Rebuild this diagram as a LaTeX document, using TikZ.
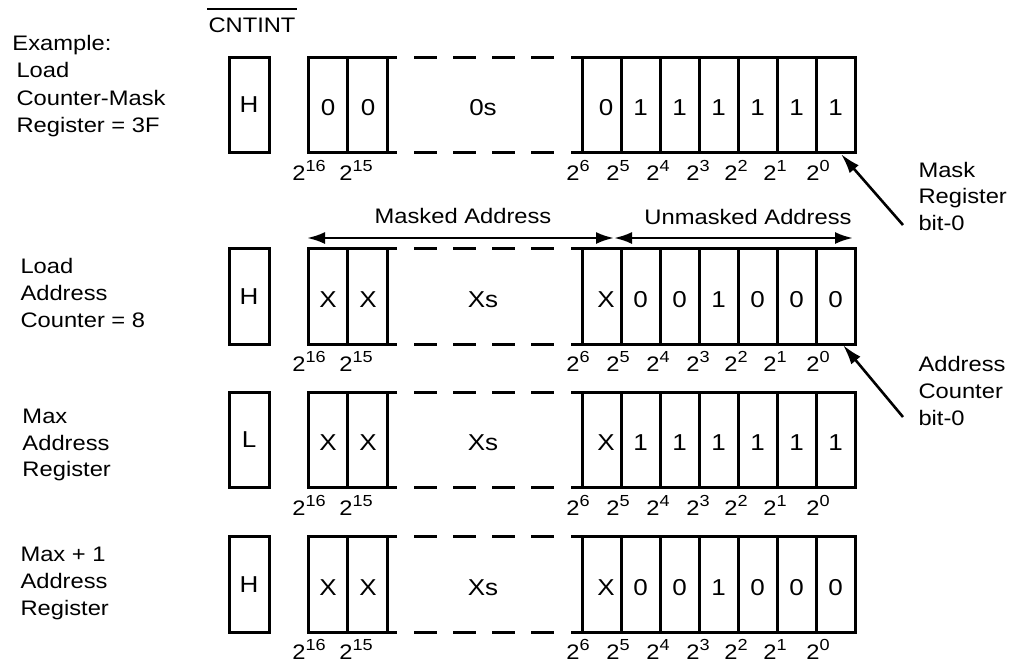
\documentclass[tikz,border=0pt]{standalone}
\usepackage{fontspec}
\setmainfont{Liberation Sans}[FakeStretch=1.13]
\usetikzlibrary{arrows.meta}
\newcommand\pw[1]{2\raisebox{9pt}{\fontsize{16}{16}\selectfont #1}}
\begin{document}
\begin{tikzpicture}[x=1pt,y=-1pt,line width=3pt,
 fnt/.style={inner sep=0pt, font=\fontsize{21}{25}\selectfont},
 bigfnt/.style={inner sep=0pt, font=\fontsize{23}{27}\selectfont},
 txtline/.style={fnt, anchor=base west},
 lbltxt/.style={fnt, anchor=base},
 celltxt/.style={bigfnt, anchor=base},
 bitlbl/.style={fnt, anchor=base},
 sig/.style={draw, bigfnt, minimum width=40pt, minimum height=95.5pt},
 darrow/.style={line width=2.6pt, {Latex[length=18pt,width=12pt]}-{Latex[length=18pt,width=12pt]}},
 parrow/.style={line width=2.6pt, -{Latex[length=20pt,width=12pt]}},
 dsh/.style={dash pattern=on 23pt off 16pt}]
\useasboundingbox (0,0) rectangle (1010,665);

% signal header
\node[txtline] (cnt) at (207,32) {CNTINT};
\draw[line width=1.4pt] ([yshift=7pt]cnt.north west) -- ([yshift=7pt]cnt.north east);

% left descriptions
\node[txtline] (d1a) at (11,50) {Example:};
\node[txtline] (d1b) at (15,77) {Load};
\node[txtline] (d1c) at (15,105) {Counter-Mask};
\node[txtline] (d1d) at (15,132) {Register = 3F};
\node[txtline] (d2a) at (19,273) {Load};
\node[txtline] (d2b) at (19,300) {Address};
\node[txtline] (d2c) at (19,327) {Counter = 8};
\node[txtline] (d3a) at (21,423) {Max};
\node[txtline] (d3b) at (21,450) {Address};
\node[txtline] (d3c) at (21,476) {Register};
\node[txtline] (d4a) at (19,561) {Max + 1};
\node[txtline] (d4b) at (19,588) {Address};
\node[txtline] (d4c) at (19,615) {Register};

% register rows
\foreach \r/\T/\hv/\la/\lb/\md/\rc in {
 1/57/H/0/0/0s/{0,1,1,1,1,1,1},
 2/248.5/H/X/X/Xs/{X,0,0,1,0,0,0},
 3/392/L/X/X/Xs/{X,1,1,1,1,1,1},
 4/536.5/H/X/X/Xs/{X,0,0,1,0,0,0}}{
  \pgfmathsetmacro\B{\T+95.5}
  \node[sig] (h\r) at (249,\T+47.75) {\hv};
  % left solid part
  \draw (397,\T) -- (308,\T) -- (308,\B) -- (397,\B);
  \draw (347.5,\T) -- (347.5,\B) (387,\T) -- (387,\B);
  % dashed middle
  \draw[dsh] (414,\T) -- (554,\T);
  \draw[dsh] (414,\B) -- (554,\B);
  % right solid part
  \draw (571,\T) -- (855,\T) -- (855,\B) -- (571,\B);
  \foreach \vx in {582,621,660,699,738,777,816} \draw (\vx,\T) -- (\vx,\B);
  % cell contents
  \node[celltxt] (l\r a) at (328,\T+58.5) {\la};
  \node[celltxt] (l\r b) at (368,\T+58.5) {\lb};
  \node[celltxt] (m\r) at (483,\T+58.5) {\md};
  \foreach \v [count=\i] in \rc {
    \pgfmathsetmacro\cx{\i==1 ? 606 : 562.5+39*\i}
    \node[celltxt] (c\r-\i) at (\cx,\T+58.5) {\v};
  }
  % bit weights
  \foreach \e/\lx in {16/309,15/356,6/578,5/618,4/658,3/698,2/736,1/775,0/818}
    \node[bitlbl] (b\r-\e) at (\lx,\B+27.5) {\pw{\e}};
}

% masked / unmasked arrows
\coordinate (mL) at (307,238);
\coordinate (mM) at (614,238);
\coordinate (mR) at (853,238);
\draw[darrow] (mL) -- (mM);
\draw[darrow] (mM) -- (mR);
\node[lbltxt] (masked) at (463,223) {Masked Address};
\node[lbltxt] (unmasked) at (748,224) {Unmasked Address};

% pointers
\node[txtline] (mk1) at (917,177) {Mask};
\node[txtline] (mk2) at (917,203) {Register};
\node[txtline] (mk3) at (917,230) {bit-0};
\coordinate (mtip) at (841,154);
\coordinate (mstart) at (903,225);
\draw[parrow] (mstart) -- (mtip);

\node[txtline] (ac1) at (917,371) {Address};
\node[txtline] (ac2) at (917,398) {Counter};
\node[txtline] (ac3) at (917,425) {bit-0};
\coordinate (atip) at (843,345);
\coordinate (astart) at (903,417);
\draw[parrow] (astart) -- (atip);
\end{tikzpicture}
\end{document}
